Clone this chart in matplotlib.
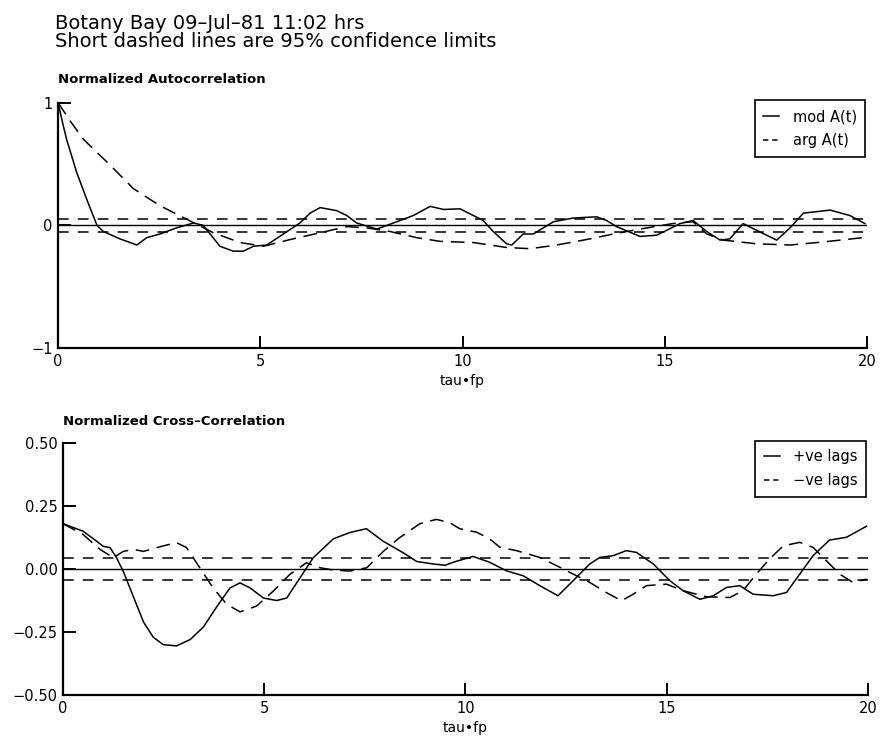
import numpy as np
import matplotlib.pyplot as plt
from matplotlib.lines import Line2D

# ---------------- Données
# Autocorrélation normalisée (module et argument)
tau_mod = [0, 0.1, 0.21, 0.46, 0.71, 0.96, 1.12, 1.53, 1.95, 2.19, 2.52,
           2.93, 3.35, 3.59, 4.0, 4.33, 4.58, 4.83, 5.16, 5.57, 5.98,
           6.23, 6.48, 6.89, 7.14, 7.38, 7.88, 8.13, 8.78, 9.2, 9.53,
           9.94, 10.27, 10.51, 10.76, 11.09, 11.22, 11.5, 11.75, 12.25, 12.74,
           13.32, 13.56, 13.81, 14.39, 14.8, 15.05, 15.38, 15.7, 16.04, 16.37,
           16.61, 16.94, 17.27, 17.77, 18.1, 18.43, 18.84, 19.09, 19.58, 19.95]
mod_A = [1.0, 0.85, 0.70, 0.43, 0.21, 0.0, -0.05, -0.11, -0.16, -0.10, -0.07,
         -0.02, 0.02, 0.0, -0.17, -0.21, -0.21, -0.17, -0.16, -0.07, 0.02,
         0.10, 0.145, 0.12, 0.08, 0.02, -0.03, 0.0, 0.08, 0.155, 0.13,
         0.135, 0.08, 0.04, -0.05, -0.15, -0.16, -0.07, -0.07, 0.03, 0.06,
         0.07, 0.04, -0.01, -0.09, -0.08, -0.04, 0.015, 0.04, -0.05, -0.12,
         -0.11, 0.015, -0.04, -0.12, -0.02, 0.10, 0.115, 0.125, 0.08, 0.015]

tau_arg = [0, 0.3, 0.63, 1.29, 1.86, 2.52, 3.18, 3.84, 4.5, 5.08, 5.74,
           6.48, 7.14, 7.63, 8.21, 8.87, 9.44, 10.27, 11.09, 11.67, 12.33,
           13.15, 13.73, 14.39, 15.2, 15.7, 16.04, 16.45, 17.27, 18.1, 18.92, 19.9]
arg_A = [1.0, 0.85, 0.70, 0.49, 0.30, 0.16, 0.05, -0.06, -0.14, -0.17, -0.115,
         -0.06, -0.01, -0.02, -0.05, -0.10, -0.13, -0.14, -0.18, -0.19, -0.16,
         -0.11, -0.07, -0.03, 0.015, 0.03, -0.07, -0.12, -0.15, -0.16, -0.135, -0.10]

# Intercorrélation normalisée (décalages positifs et négatifs)
tau_pos = [0, 0.5, 0.84, 1.0, 1.17, 1.33, 1.5, 1.75, 2.0, 2.24,
           2.49, 2.82, 3.16, 3.49, 3.82, 4.15, 4.4, 4.65, 4.98, 5.31,
           5.56, 5.89, 6.22, 6.72, 7.13, 7.54, 7.96, 8.45, 8.79,
           9.2, 9.5, 9.7, 10.19, 10.6, 11.02, 11.44, 11.85, 12.3, 12.68,
           13.09, 13.34, 13.67, 14.0, 14.25, 14.67, 15.08, 15.41, 15.83, 16.16,
           16.49, 16.82, 17.15, 17.65, 17.98, 18.31, 18.64, 19.05, 19.47, 19.97]
pos_lags = [0.18, 0.15, 0.11, 0.09, 0.085, 0.045, -0.01, -0.11, -0.21, -0.27,
            -0.30, -0.305, -0.28, -0.23, -0.15, -0.075, -0.055, -0.075, -0.115, -0.125,
            -0.115, -0.035, 0.045, 0.12, 0.145, 0.16, 0.11, 0.065, 0.03,
            0.02, 0.015, 0.027, 0.05, 0.027, -0.007, -0.027, -0.066, -0.106, -0.046,
            0.02, 0.046, 0.053, 0.073, 0.066, 0.02, -0.046, -0.086, -0.12, -0.106,
            -0.073, -0.066, -0.1, -0.106, -0.093, -0.02, 0.053, 0.115, 0.126, 0.17]

tau_neg = [0, 0.5, 0.92, 1.25, 1.5, 1.75, 2.0, 2.33, 2.82, 3.07,
           3.4, 3.73, 4.07, 4.4, 4.81, 5.23, 5.64, 6.05, 6.39, 6.72,
           7.13, 7.55, 7.96, 8.37, 8.87, 9.28, 9.61, 9.86, 10.28, 10.6,
           10.86, 11.27, 11.85, 12.27, 12.68, 13.09, 13.5, 13.88, 14.17, 14.5,
           15.0, 15.41, 15.99, 16.57, 16.9, 17.23, 17.56, 17.9, 18.31, 18.64,
           18.97, 19.3, 19.63, 19.97]
neg_lags = [0.18, 0.137, 0.078, 0.045, 0.07, 0.078, 0.07, 0.085, 0.105, 0.085,
            0.005, -0.075, -0.14, -0.17, -0.147, -0.087, -0.021, 0.025, 0.005, -0.004,
            -0.008, 0.005, 0.07, 0.125, 0.18, 0.197, 0.184, 0.16, 0.146, 0.12,
            0.086, 0.073, 0.046, 0.013, -0.02, -0.053, -0.093, -0.126, -0.1, -0.066,
            -0.06, -0.086, -0.11, -0.113, -0.086, -0.02, 0.04, 0.092, 0.106, 0.086,
            0.033, -0.02, -0.053, -0.04]

# Limites de confiance à 95 %
conf_auto = 0.05
conf_cross = 0.045

auto_ticks = [-1, 0, 1]
cross_ticks = [-0.5, -0.25, 0.0, 0.25, 0.5]
x_ticks = [0, 5, 10, 15, 20]

long_dash = (0, (9, 5))
short_dash = (0, (7, 6))


def style_axes(ax):
    # Seuls les axes gauche et bas sont tracés
    ax.spines['top'].set_visible(False)
    ax.spines['right'].set_visible(False)
    ax.spines['left'].set_linewidth(1.6)
    ax.spines['bottom'].set_linewidth(1.6)
    ax.set_xlim(0, 20)
    ax.set_xticks(x_ticks)
    ax.tick_params(direction='in', length=9, width=1.4, labelsize=10.5, pad=4)
    ax.set_xlabel('tau•fp', fontsize=10, labelpad=4)


def legende(ax, labels):
    # Petits segments comme dans la légende d'origine : trait plein puis "--"
    handles = [Line2D([], [], color='black', lw=1.1),
               Line2D([], [], color='black', lw=1.1, linestyle=(0, (3.5, 2.5)))]
    leg = ax.legend(handles, labels, loc='upper right', bbox_to_anchor=(1.0, 1.015),
                    fontsize=10.5, handlelength=1.1, handletextpad=0.9,
                    frameon=True, fancybox=False, edgecolor='black',
                    borderpad=0.6, labelspacing=0.6, framealpha=1,
                    borderaxespad=0.1)
    leg.get_frame().set_linewidth(1.2)


fig = plt.figure(figsize=(8.81, 7.39), dpi=100)
plt.rcParams['font.family'] = ['DejaVu Sans']

fig.text(0.062, 0.981, 'Botany Bay 09\u2013Jul\u201381 11:02 hrs\n'
         'Short dashed lines are 95% confidence limits',
         fontsize=14, va='top', linespacing=0.95)

# ------ Graphique 1 : autocorrélation
ax1 = fig.add_axes([0.066, 0.529, 0.918, 0.332])
ax1.plot(tau_mod, mod_A, color='black', lw=1.1)
ax1.plot(tau_arg, arg_A, color='black', lw=1.1, linestyle=long_dash)
ax1.axhline(0, color='black', lw=1.0)
ax1.axhline(conf_auto, color='black', lw=1.1, linestyle=short_dash)
ax1.axhline(-conf_auto, color='black', lw=1.1, linestyle=short_dash)
ax1.set_ylim(-1, 1)
ax1.set_yticks(auto_ticks)
ax1.set_yticklabels(['\u22121', '0', '1'])
style_axes(ax1)
ax1.text(0.0, 1.08, 'Normalized Autocorrelation', transform=ax1.transAxes,
         fontsize=9.5, fontweight='bold', va='baseline')
legende(ax1, ['mod A(t)', 'arg A(t)'])

# ------ Graphique 2 : intercorrélation
ax2 = fig.add_axes([0.0715, 0.0595, 0.9135, 0.341])
ax2.plot(tau_pos, pos_lags, color='black', lw=1.1)
ax2.plot(tau_neg, neg_lags, color='black', lw=1.1, linestyle=long_dash)
ax2.axhline(0, color='black', lw=1.0)
ax2.axhline(conf_cross, color='black', lw=1.1, linestyle=short_dash)
ax2.axhline(-conf_cross, color='black', lw=1.1, linestyle=short_dash)
ax2.set_ylim(-0.5, 0.5)
ax2.set_yticks(cross_ticks)
ax2.set_yticklabels(['%.2f' % v if v >= 0 else '\u2212%.2f' % -v for v in cross_ticks])
style_axes(ax2)
ax2.text(0.0, 1.07, 'Normalized Cross\u2013Correlation', transform=ax2.transAxes,
         fontsize=9.5, fontweight='bold', va='baseline')
legende(ax2, ['+ve lags', '\u2212ve lags'])

plt.savefig('out.png', dpi=100)
